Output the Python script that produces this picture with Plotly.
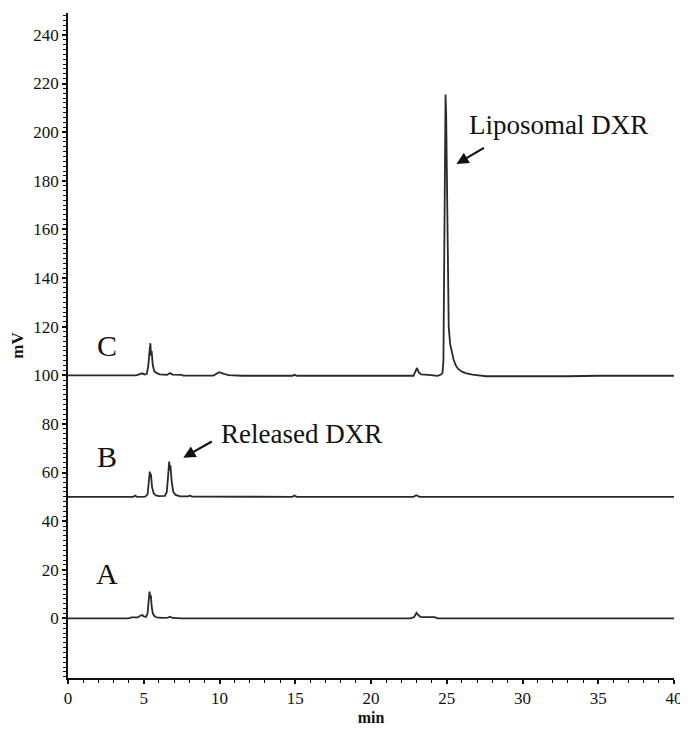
import plotly.graph_objects as go

# ---- data (retention time in min, signal in mV) ----
t_A = [0, 4.0, 4.2, 4.6, 4.8, 4.9, 5.0, 5.15, 5.25, 5.32, 5.38, 5.43, 5.47, 5.52, 5.6, 5.7, 5.85,
       6.2, 6.6, 6.75, 6.9, 7.5, 9.0, 12, 15, 16, 22.6, 22.85, 23.0, 23.15, 23.3, 24.2, 24.4, 30, 40]
mv_A = [0, 0, 0.4, 0.4, 1.2, 1.4, 0.8, 0.6, 2, 7, 11, 8.5, 9.5, 5, 2, 1, 0.4,
        0.2, 0.3, 0.7, 0.2, 0, 0, -0.2, -0.2, 0, 0, 0.6, 2.3, 1.2, 0.5, 0.5, 0, 0, 0]

t_B = [0, 4.3, 4.44, 4.55, 5.1, 5.25, 5.33, 5.40, 5.44, 5.47, 5.55, 5.65, 5.8, 6.0, 6.4, 6.52,
       6.6, 6.68, 6.72, 6.76, 6.85, 6.95, 7.1, 7.4, 7.9, 8.05, 8.2, 14.8, 14.95, 15.1, 22.8, 23.0, 23.2, 40]
mv_B = [50, 50, 50.5, 50, 50.1, 51, 56, 60.4, 58, 59.5, 54, 51.5, 50.6, 50.3, 50.4, 52,
        58, 64.5, 61, 63, 56, 52, 50.8, 50.2, 50.2, 50.5, 50.1, 50, 50.5, 50, 50, 50.7, 50, 50]

t_C = [0, 4.5, 4.9, 5.05, 5.2, 5.3, 5.38, 5.44, 5.48, 5.52, 5.6, 5.7, 5.9, 6.05, 6.3, 6.55, 6.73,
       6.9, 7.5, 7.6, 9.6, 9.97, 10.3, 10.6, 11.5, 14.8, 14.95, 15.1, 22.8, 22.95, 23.04, 23.15,
       23.3, 23.8, 24.4, 24.62, 24.72, 24.78, 24.83, 24.88, 24.92, 24.96, 25.0, 25.04, 25.08,
       25.13, 25.22, 25.32, 25.45, 25.6, 25.75, 26.0, 26.3, 26.7, 27.2, 27.6, 33, 35, 40]
mv_C = [100, 100, 100.8, 100.3, 100.6, 104, 110, 113.2, 108, 110, 104, 101.5, 100.8, 100.4, 100.3,
        100.2, 100.9, 100.3, 100.2, 99.9, 99.9, 101.3, 100.6, 100.1, 99.8, 99.8, 100.2, 99.8, 99.8,
        101.5, 103, 101.2, 100.4, 100.2, 99.8, 100.3, 101, 106, 140, 185, 215.5, 208, 180, 150, 130,
        120, 113, 109.5, 106.5, 104, 102.6, 101.5, 100.8, 100.3, 99.8, 99.6, 99.6, 99.8, 99.8]

trace_labels = ["A", "B", "C"]
trace_label_pos_y = [18.4, 66.5, 112.2]
y_tick_vals = list(range(0, 241, 20))
x_tick_vals = list(range(0, 41, 5))

LINE = "#2a2a2a"
SERIF = "Liberation Serif, Times New Roman, serif"

fig = go.Figure()
for t, v in [(t_A, mv_A), (t_B, mv_B), (t_C, mv_C)]:
    fig.add_trace(go.Scatter(x=t, y=v, mode="lines",
                             line=dict(color=LINE, width=1.8),
                             showlegend=False, hoverinfo="skip"))

for lab, yy in zip(trace_labels, trace_label_pos_y):
    fig.add_annotation(x=2.56, y=yy, text=lab, showarrow=False,
                       font=dict(family=SERIF, size=30, color="#111"))

fig.add_annotation(x=32.36, y=202.9, text="Liposomal DXR", showarrow=False,
                   font=dict(family=SERIF, size=27, color="#111"))
fig.add_annotation(x=25.64, y=186.9, ax=29, ay=-17, text="", showarrow=True,
                   arrowhead=2, arrowsize=1.1, arrowwidth=2.2, arrowcolor="#111")
fig.add_annotation(x=15.38, y=75.9, text="Released DXR", showarrow=False,
                   font=dict(family=SERIF, size=27, color="#111"))
fig.add_annotation(x=7.61, y=66.1, ax=30, ay=-17, text="", showarrow=True,
                   arrowhead=2, arrowsize=1.1, arrowwidth=2.2, arrowcolor="#111")

fig.update_layout(
    width=680, height=721,
    margin=dict(l=60, r=10, t=5, b=46),
    paper_bgcolor="white", plot_bgcolor="white",
    font=dict(family=SERIF, color="#111"),
    xaxis=dict(range=[0, 40], tickmode="array", tickvals=x_tick_vals,
               ticks="outside", ticklen=4, tickwidth=1.5, tickcolor="#111",
               showline=True, linecolor="#111", linewidth=1.6,
               showgrid=False, zeroline=False,
               tickfont=dict(family=SERIF, size=17, color="#111"),
               minor=dict(tickmode="linear", tick0=0, dtick=1, ticks="outside",
                          ticklen=3, tickwidth=1.3, tickcolor="#111", showgrid=False),
               title=dict(text="<b>min</b>", font=dict(family=SERIF, size=16, color="#111"),
                          standoff=5)),
    yaxis=dict(range=[-24.5, 249], tickmode="array", tickvals=y_tick_vals,
               ticks="outside", ticklen=4, tickwidth=1.5, tickcolor="#111",
               showline=True, linecolor="#111", linewidth=1.6,
               showgrid=False, zeroline=False,
               tickfont=dict(family=SERIF, size=17, color="#111"),
               minor=dict(tickmode="linear", tick0=0, dtick=2, ticks="outside",
                          ticklen=3, tickwidth=1.2, tickcolor="#111", showgrid=False),
               title=dict(text="<b>mV</b>", font=dict(family=SERIF, size=17, color="#111"),
                          standoff=7)),
)

fig.write_html("out.html", config={"displayModeBar": False})
